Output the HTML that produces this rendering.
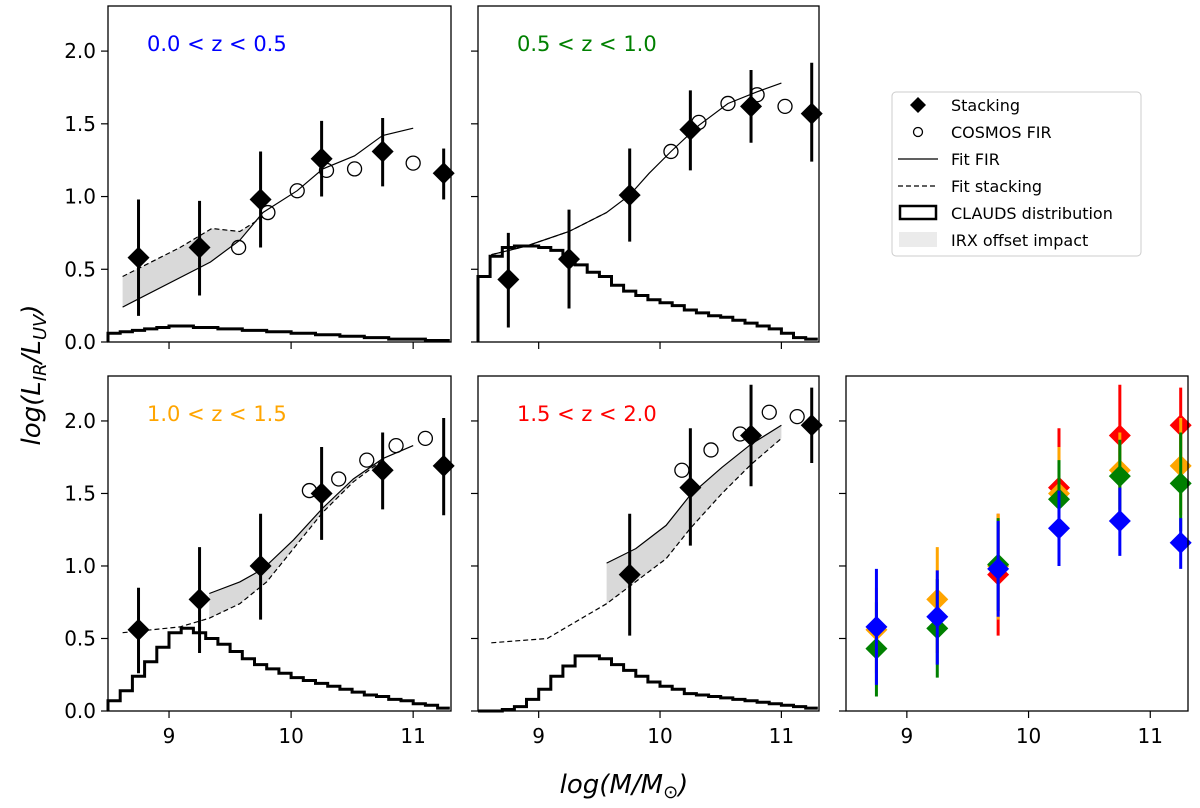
<!DOCTYPE html>
<html><head><meta charset="utf-8">
<style>
html,body{margin:0;padding:0;background:#fff;}
svg{display:block;font-family:"DejaVu Sans","Liberation Sans",sans-serif;}
</style></head>
<body>
<svg id="chart" width="1200" height="808" viewBox="0 0 1200 808" xmlns="http://www.w3.org/2000/svg">
<rect x="0" y="0" width="1200" height="808" fill="#fff"/>
<text transform="translate(40,375) rotate(-90)" text-anchor="middle" font-size="26" font-style="italic">log(L<tspan font-size="18" dy="6">IR</tspan><tspan dy="-6">/L</tspan><tspan font-size="18" dy="6">UV</tspan><tspan dy="-6">)</tspan></text>
<text x="624" y="793" text-anchor="middle" font-size="26" font-style="italic">log(M/M<tspan font-size="18" dy="5" font-style="normal">⊙</tspan><tspan dy="-5">)</tspan></text>
<g id="legend">
<rect x="892" y="92" width="249" height="164" rx="4" fill="#fff" stroke="#ccc" stroke-width="1"/>
<g><path d="M918,97 L926,105 L918,113 L910,105 Z" fill="#000"/><text x="951" y="111" font-size="16">Stacking</text></g>
<g><circle cx="918" cy="132" r="4.5" fill="none" stroke="#000" stroke-width="1.3"/><text x="951" y="138" font-size="16">COSMOS FIR</text></g>
<g><line x1="898" y1="159" x2="938" y2="159" stroke="#000" stroke-width="1.2"/><text x="951" y="165" font-size="16">Fit FIR</text></g>
<g><line x1="898" y1="186" x2="938" y2="186" stroke="#000" stroke-width="1.2" stroke-dasharray="5,3"/><text x="951" y="192" font-size="16">Fit stacking</text></g>
<g><rect x="900" y="206" width="36" height="13" fill="#fff" stroke="#000" stroke-width="2.5"/><text x="951" y="219" font-size="16">CLAUDS distribution</text></g>
<g><rect x="899" y="232" width="38" height="15" fill="#ebebeb"/><text x="951" y="246" font-size="16">IRX offset impact</text></g>
</g>
</svg>
<script>
// ---- data ----
const stackX = [8.75, 9.25, 9.75, 10.25, 10.75, 11.25];
const stack1 = [0.58, 0.65, 0.98, 1.26, 1.31, 1.16];
const stack1Lo = [0.18, 0.32, 0.65, 1.00, 1.07, 0.98];
const stack1Hi = [0.98, 0.97, 1.31, 1.52, 1.54, 1.33];
const stack2 = [0.43, 0.57, 1.01, 1.46, 1.62, 1.57];
const stack2Lo = [0.10, 0.23, 0.69, 1.18, 1.37, 1.24];
const stack2Hi = [0.75, 0.91, 1.33, 1.73, 1.87, 1.92];
const stack3 = [0.56, 0.77, 1.00, 1.50, 1.66, 1.69];
const stack3Lo = [0.26, 0.40, 0.63, 1.18, 1.39, 1.35];
const stack3Hi = [0.85, 1.13, 1.36, 1.82, 1.92, 2.02];
const stack4X = [9.75, 10.25, 10.75, 11.25];
const stack4 = [0.94, 1.54, 1.90, 1.97];
const stack4Lo = [0.52, 1.14, 1.55, 1.71];
const stack4Hi = [1.36, 1.95, 2.25, 2.23];

const cos1X = [9.57, 9.81, 10.05, 10.29, 10.52, 11.0];
const cos1Y = [0.65, 0.89, 1.04, 1.18, 1.19, 1.23];
const cos2X = [10.09, 10.32, 10.56, 10.80, 11.03];
const cos2Y = [1.31, 1.51, 1.64, 1.70, 1.62];
const cos3X = [10.15, 10.39, 10.62, 10.86, 11.10];
const cos3Y = [1.52, 1.60, 1.73, 1.83, 1.88];
const cos4X = [10.18, 10.42, 10.66, 10.90, 11.13];
const cos4Y = [1.66, 1.80, 1.91, 2.06, 2.03];

const fir1X = [8.62, 9.34, 9.58, 9.77, 10.05, 10.26, 10.52, 10.75, 11.0];
const fir1Y = [0.24, 0.55, 0.70, 0.89, 1.04, 1.19, 1.28, 1.42, 1.47];
const fst1X = [8.62, 9.09, 9.35, 9.58, 9.77];
const fst1Y = [0.45, 0.65, 0.78, 0.76, 0.86];
const fir2X = [8.61, 8.90, 9.25, 9.56, 9.75, 9.91, 10.09, 10.32, 10.56, 10.80, 11.0];
const fir2Y = [0.60, 0.66, 0.76, 0.89, 1.01, 1.16, 1.31, 1.49, 1.64, 1.72, 1.78];
const fst2X = [8.61, 8.90, 9.25, 9.56];
const fst2Y = [0.60, 0.66, 0.76, 0.89];
const fir3X = [9.33, 9.58, 9.77, 10.02, 10.26, 10.51, 10.75, 11.0];
const fir3Y = [0.81, 0.89, 0.98, 1.18, 1.40, 1.60, 1.74, 1.83];
const fst3X = [8.62, 9.09, 9.33, 9.58, 9.80, 10.02, 10.26, 10.51, 10.75];
const fst3Y = [0.54, 0.58, 0.64, 0.74, 0.89, 1.12, 1.37, 1.58, 1.73];
const fir4X = [9.56, 9.80, 10.05, 10.25, 10.51, 10.75, 11.0];
const fir4Y = [1.02, 1.12, 1.28, 1.49, 1.68, 1.84, 1.97];
const fst4X = [8.61, 9.07, 9.56, 10.05, 10.25, 10.51, 10.75, 11.0];
const fst4Y = [0.47, 0.50, 0.74, 1.05, 1.26, 1.50, 1.70, 1.88];

const histStart = 8.5, histStep = 0.1;
const hist1 = [0.06,0.07,0.08,0.09,0.10,0.11,0.11,0.10,0.10,0.09,0.09,0.08,0.08,0.07,0.07,0.06,0.06,0.05,0.05,0.04,0.04,0.03,0.03,0.02,0.02,0.02,0.01,0.01];
const hist2 = [0.45,0.59,0.65,0.66,0.66,0.65,0.63,0.58,0.53,0.48,0.45,0.39,0.35,0.32,0.29,0.27,0.25,0.22,0.20,0.18,0.17,0.15,0.13,0.11,0.09,0.06,0.03,0.02];
const hist3 = [0.07,0.14,0.24,0.34,0.44,0.54,0.57,0.54,0.50,0.46,0.41,0.36,0.32,0.29,0.26,0.23,0.21,0.19,0.17,0.15,0.13,0.11,0.10,0.08,0.07,0.05,0.04,0.02];
const hist4 = [0.00,0.00,0.01,0.03,0.08,0.15,0.24,0.31,0.38,0.38,0.36,0.32,0.28,0.24,0.20,0.17,0.15,0.12,0.11,0.10,0.09,0.08,0.07,0.06,0.05,0.04,0.03,0.02];

const xTicks = [9, 10, 11];
const xTickLabels = ['9', '10', '11'];
const yTicks = [0, 0.5, 1.0, 1.5, 2.0];
const yTickLabels = ['0.0', '0.5', '1.0', '1.5', '2.0'];
const zLabels = ['0.0 < z < 0.5', '0.5 < z < 1.0', '1.0 < z < 1.5', '1.5 < z < 2.0'];
const zColors = ['#0000ff', '#008000', '#ffa500', '#ff0000'];

// ---- layout ----
const NS = 'http://www.w3.org/2000/svg';
const svg = document.getElementById('chart');
const XMIN = 8.5, XMAX = 11.31, YMIN = 0, YMAX = 2.31;
const panels = [
  {l:108, r:451, t:6, b:342, ylab:true, xlab:false},
  {l:478, r:819, t:6, b:342, ylab:false, xlab:false},
  {l:108, r:451, t:376, b:711, ylab:true, xlab:true},
  {l:478, r:819, t:376, b:711, ylab:false, xlab:true},
  {l:846, r:1188, t:376, b:711, ylab:false, xlab:true}
];
function mk(tag, attrs, parent) {
  const e = document.createElementNS(NS, tag);
  for (const k in attrs) e.setAttribute(k, attrs[k]);
  (parent || svg).appendChild(e);
  return e;
}
function sx(p, v) { return p.l + (v - XMIN) / (XMAX - XMIN) * (p.r - p.l); }
function sy(p, v) { return p.b - (v - YMIN) / (YMAX - YMIN) * (p.b - p.t); }
function linePts(p, xs, ys) { return xs.map((x, i) => sx(p, x).toFixed(1) + ',' + sy(p, ys[i]).toFixed(1)).join(' '); }

function drawAxes(p, idx) {
  const g = mk('g', {});
  
  
  xTicks.forEach((t, i) => {
    const x = sx(p, t);
    const tk = mk('line', {x1: x, x2: x, y1: p.b, y2: p.b + 7, stroke: '#000', 'stroke-width': 1.2}, g);
    
    
    if (p.xlab) {
      const tx = mk('text', {x: x, y: p.b + 32, 'text-anchor': 'middle', 'font-size': 20}, g);
      
      
      tx.textContent = xTickLabels[i];
    }
  });
  yTicks.forEach((t, i) => {
    const y = sy(p, t);
    const tk = mk('line', {x1: p.l - 7, x2: p.l, y1: y, y2: y, stroke: '#000', 'stroke-width': 1.2}, g);
    
    
    if (p.ylab) {
      const tx = mk('text', {x: p.l - 12, y: y + 7, 'text-anchor': 'end', 'font-size': 20}, g);
      
      
      tx.textContent = yTickLabels[i];
    }
  });
}
function drawFrame(p, idx) {
  const f = mk('rect', {x: p.l, y: p.t, width: p.r - p.l, height: p.b - p.t, fill: 'none', stroke: '#000', 'stroke-width': 1.3});
  
  
}
function drawHist(p, vals, name) {
  let d = '';
  vals.forEach((v, i) => {
    const x0 = sx(p, histStart + i * histStep), x1 = sx(p, Math.min(histStart + (i + 1) * histStep, XMAX));
    const y = sy(p, v);
    d += (i === 0 ? 'M' + x0.toFixed(1) + ',' + p.b + ' L' : ' L') + x0.toFixed(1) + ',' + y.toFixed(1) + ' L' + x1.toFixed(1) + ',' + y.toFixed(1);
  });
  const h = mk('path', {d: d, fill: 'none', stroke: '#000', 'stroke-width': 3});
  
  
}
function interp(xs, ys, x) {
  if (x <= xs[0]) return ys[0];
  for (let i = 1; i < xs.length; i++) if (x <= xs[i]) return ys[i-1] + (ys[i]-ys[i-1]) * (x - xs[i-1]) / (xs[i]-xs[i-1]);
  return ys[ys.length - 1];
}
function drawBand(p, ax, ay, bx, by, name) {
  const x0 = Math.max(ax[0], bx[0]), x1 = Math.min(ax[ax.length-1], bx[bx.length-1]);
  const grid = Array.from(new Set(ax.concat(bx))).filter(x => x >= x0 && x <= x1).sort((a,b)=>a-b);
  const top = grid.map(x => sx(p, x).toFixed(1) + ',' + sy(p, interp(ax, ay, x)).toFixed(1));
  const bot = grid.slice().reverse().map(x => sx(p, x).toFixed(1) + ',' + sy(p, interp(bx, by, x)).toFixed(1));
  const b = mk('polygon', {points: top.concat(bot).join(' '), fill: '#d9d9d9', stroke: 'none'});
  
  
}
function drawLine(p, xs, ys, dashed, name) {
  const l = mk('polyline', {points: linePts(p, xs, ys), fill: 'none', stroke: '#000', 'stroke-width': 1.2});
  if (dashed) l.setAttribute('stroke-dasharray', '5,3');
  
  
}
function diamond(p, x, y, color, r, name) {
  const cx = sx(p, x), cy = sy(p, y);
  const d = mk('path', {d: `M${cx},${cy-r} L${cx+r},${cy} L${cx},${cy+r} L${cx-r},${cy} Z`, fill: color});
  
  
}
function errbar(p, x, lo, hi, color, name) {
  const e = mk('line', {x1: sx(p, x), x2: sx(p, x), y1: sy(p, lo), y2: sy(p, hi), stroke: color, 'stroke-width': 3});
  
  
}
function drawStack(p, xs, ys, lo, hi, color, name) {
  xs.forEach((x, i) => {
    if (x > XMAX + 0.05) return;
    errbar(p, x, lo[i], hi[i], color, name + '-errorbar');
    diamond(p, x, ys[i], color, 11, name + '-point');
  });
}
function drawCircles(p, xs, ys, name) {
  xs.forEach((x, i) => {
    const c = mk('circle', {cx: sx(p, x), cy: sy(p, ys[i]), r: 7, fill: 'none', stroke: '#000', 'stroke-width': 1.3});
    
    
  });
}
function drawTitle(p, idx) {
  const t = mk('text', {x: p.l + 39, y: p.t + 45, 'font-size': 21, fill: zColors[idx]});
  
  
  t.textContent = zLabels[idx];
}

const cfg = [
  {hist: hist1, firX: fir1X, firY: fir1Y, fstX: fst1X, fstY: fst1Y, band: [fst1X, fst1Y, fir1X, fir1Y], cx: cos1X, cy: cos1Y, sx: stackX, s: stack1, lo: stack1Lo, hi: stack1Hi},
  {hist: hist2, firX: fir2X, firY: fir2Y, fstX: fst2X, fstY: fst2Y, band: null, cx: cos2X, cy: cos2Y, sx: stackX, s: stack2, lo: stack2Lo, hi: stack2Hi},
  {hist: hist3, firX: fir3X, firY: fir3Y, fstX: fst3X, fstY: fst3Y, band: [fir3X, fir3Y, fst3X, fst3Y], cx: cos3X, cy: cos3Y, sx: stackX, s: stack3, lo: stack3Lo, hi: stack3Hi},
  {hist: hist4, firX: fir4X, firY: fir4Y, fstX: fst4X, fstY: fst4Y, band: [fir4X, fir4Y, fst4X, fst4Y], cx: cos4X, cy: cos4Y, sx: stack4X, s: stack4, lo: stack4Lo, hi: stack4Hi}
];

cfg.forEach((c, i) => {
  const p = panels[i];
  drawAxes(p, i);
  const pfx = 'panel-' + (i + 1);
  if (c.band) drawBand(p, c.band[0], c.band[1], c.band[2], c.band[3], pfx + '-irx-offset-band');
  drawHist(p, c.hist, pfx + '-clauds-histogram');
  drawLine(p, c.fstX, c.fstY, true, pfx + '-fit-stacking-line');
  drawLine(p, c.firX, c.firY, false, pfx + '-fit-fir-line');
  drawCircles(p, c.cx, c.cy, pfx + '-cosmos-fir-point');
  drawStack(p, c.sx, c.s, c.lo, c.hi, '#000', pfx + '-stacking');
  drawFrame(p, i);
  drawTitle(p, i);
});

// combined panel: draw order red, orange, green, blue
const p5 = panels[4];
drawAxes(p5, 4);
[3, 2, 1, 0].forEach(k => {
  const c = cfg[k];
  drawStack(p5, c.sx, c.s, c.lo, c.hi, zColors[k], 'combined-z' + (k + 1));
});
drawFrame(p5, 4);
</script>
</body></html>
